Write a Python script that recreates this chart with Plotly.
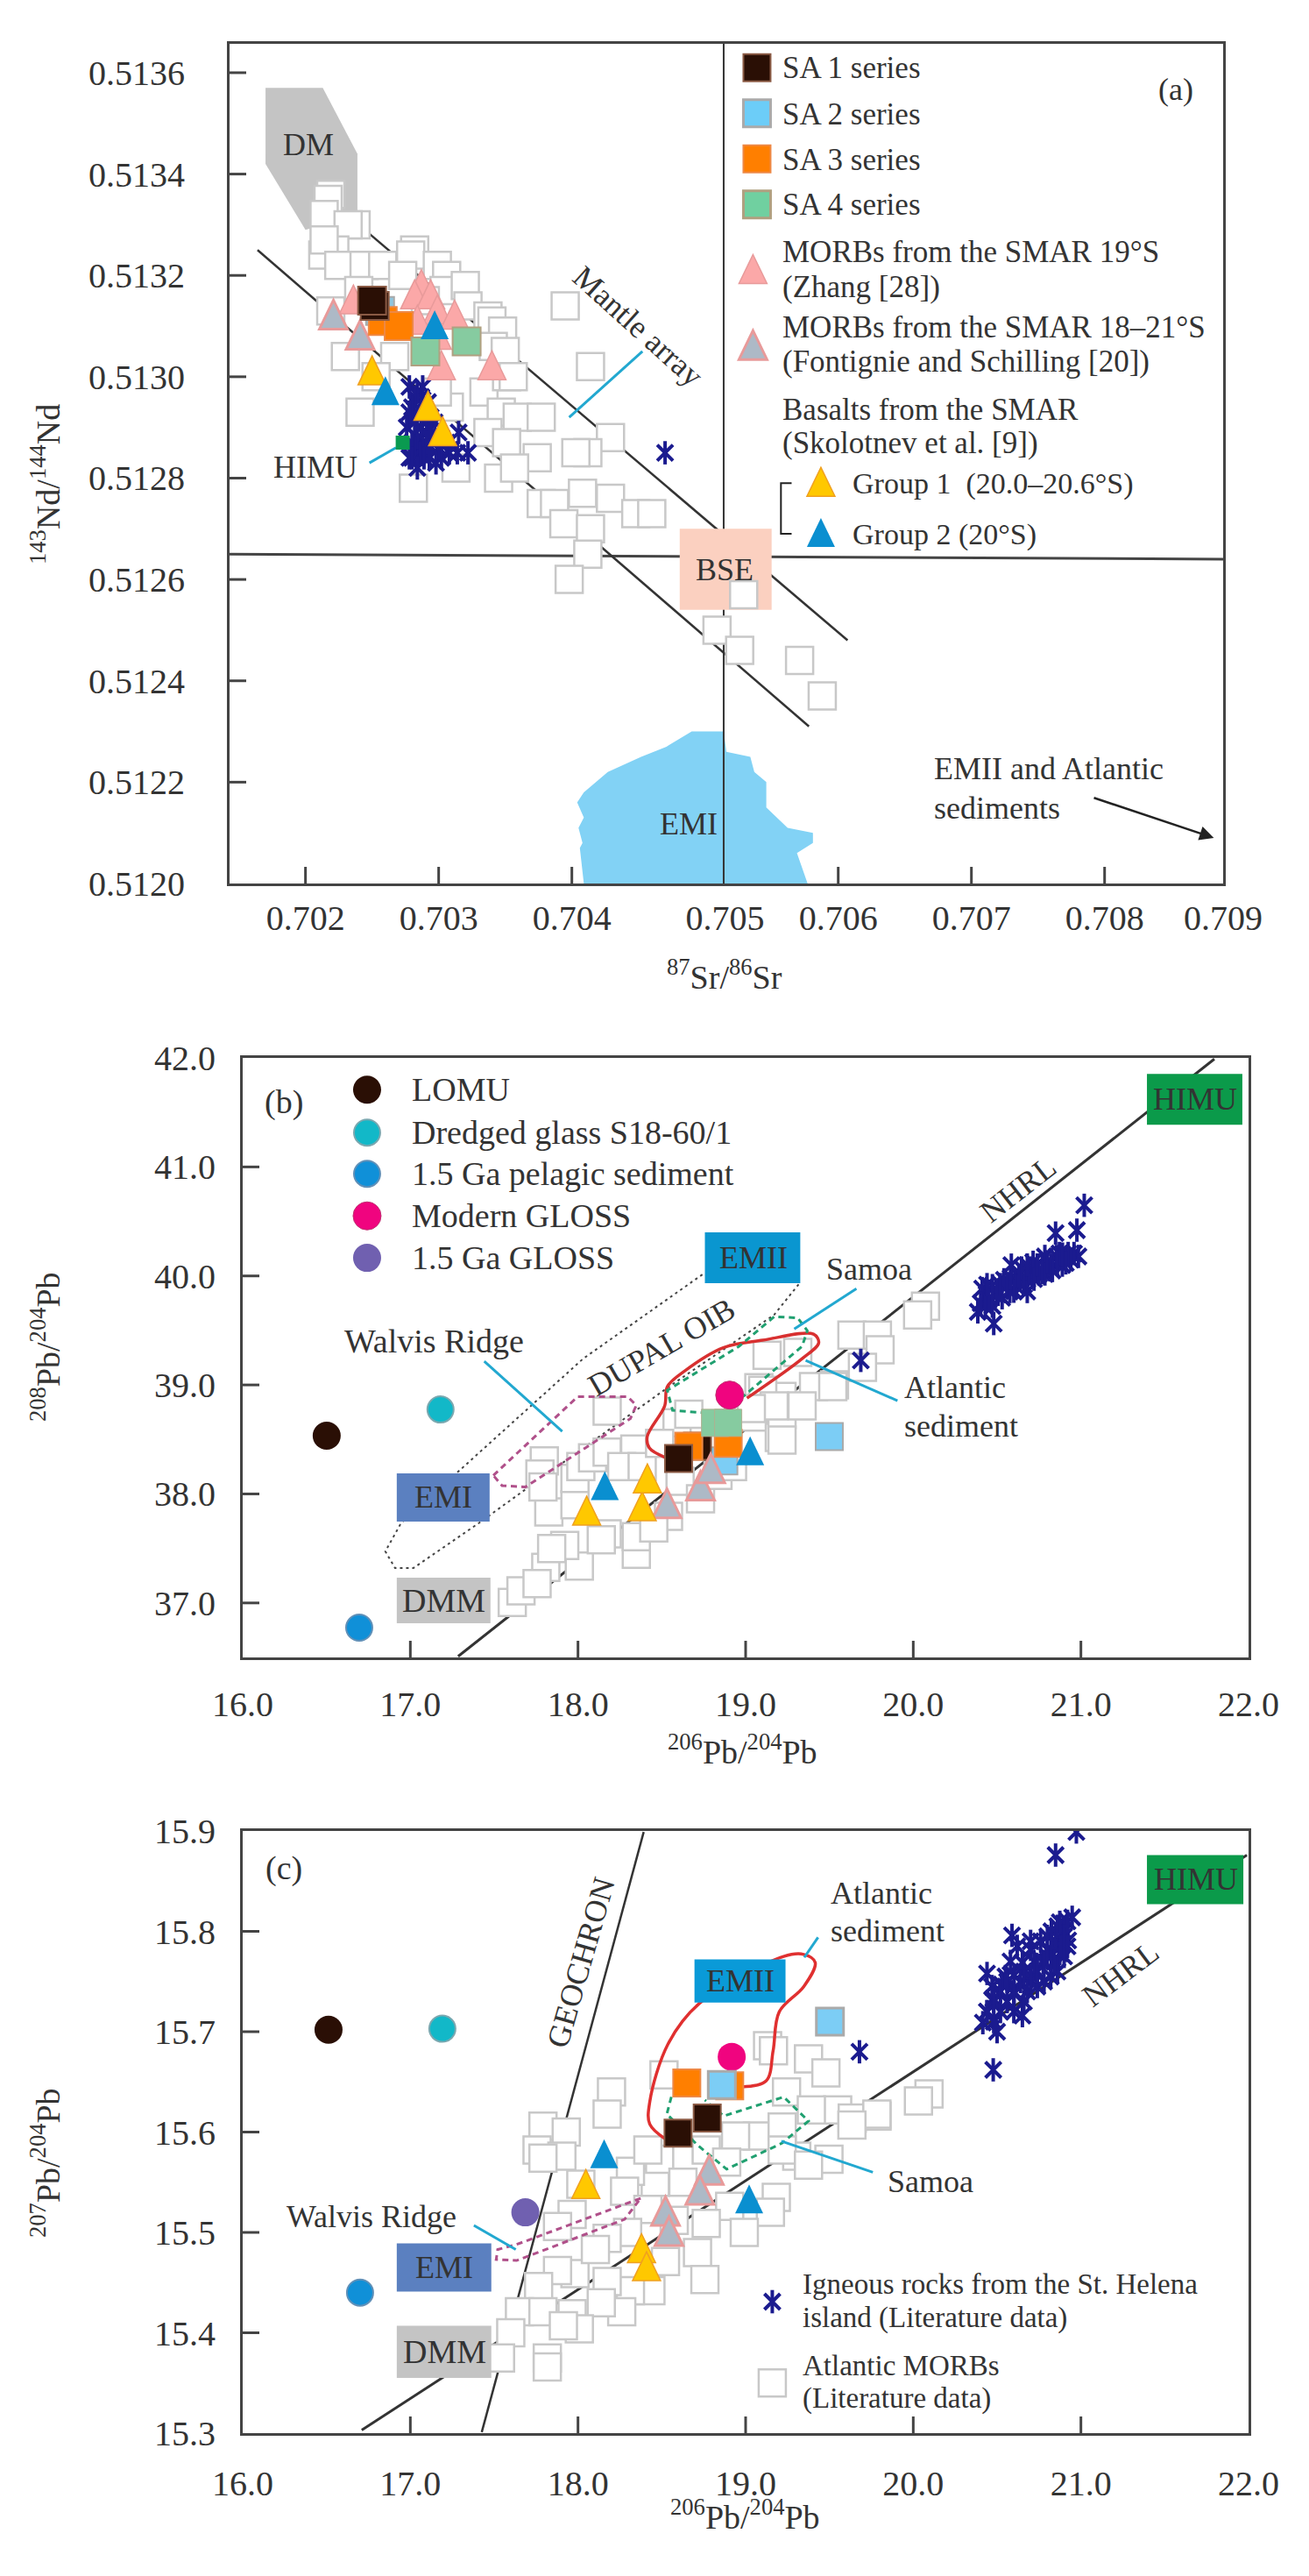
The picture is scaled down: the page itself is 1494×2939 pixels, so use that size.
import plotly.graph_objects as go

W, H = 1494, 2939
SERIF = "Liberation Serif"
INK = "#333333"
NAVY = "#1b1b8f"
LEADER = "#22a8d0"

# ---------- Panel (a): 87Sr/86Sr vs 143Nd/144Nd ----------
a_xticks = [0.702, 0.703, 0.704, 0.70515, 0.706, 0.707, 0.708, 0.70889]
a_xticktext = ["0.702", "0.703", "0.704", "0.705", "0.706", "0.707", "0.708", "0.709"]
a_xmarks = [0.702, 0.703, 0.704, 0.706, 0.707, 0.708]
a_yticks = [0.5120, 0.5122, 0.5124, 0.5126, 0.5128, 0.5130, 0.5132, 0.5134, 0.5136]
a_morb_x = [.70219,.70217,.70214,.70238,.70232,.70222,.70213,.70214,.70225,.70244,.70258,.70282,.70279,.70273,
            .70299,.70306,.70304,.70320,.70322,.70337,.70340,.70348,.70341,.70350,.70230,.70267,.70253,.70241,
            .70281,.70313,.70308,.70334,.70347,.70359,.70377,.70337,.70351,.70374,.70345,.70357,.70351,.70356,
            .70395,.70414,.70429,.70412,.70403,.70377,.70387,.70408,.70429,.70448,.70460,.70394,.70414,.70412,
            .70398,.70299,.70290,.70240,.70219,.70529,.70509,.70526,.70571,.70588]
a_morb_y = [.51336,.51335,.51332,.51330,.51330,.51325,.51324,.51327,.51322,.51322,.51322,.51325,.51324,.51320,
            .51322,.51320,.51317,.51318,.51314,.51312,.51311,.51309,.51306,.51305,.51304,.51304,.51300,.51293,
            .51278,.51282,.51294,.51297,.51293,.51292,.51292,.51289,.51287,.51284,.51280,.51282,.51300,.51300,
            .51314,.51302,.51288,.51285,.51285,.51275,.51275,.51277,.51276,.51273,.51273,.51271,.51270,.51265,
            .51260,.51297,.51315,.51317,.51313,.51257,.51250,.51246,.51244,.51237]
a_star_x = [.70284,.70282,.70287,.70280,.70284,.70282,.70287,.70284,.70291,.70282,.70288,.70295,.70302,.70286,
            .70293,.70302,.70308,.70284,.70315,.70314,.70322,.70297,.70470,
            .70278,.70288,.70292,.70278,.70290,.70294,.70276,.70293,.70280,.70291,.70300,.70278,.70289,.70298,
            .70280,.70306]
a_star_y = [.51297,.51296,.51296,.51294,.51292,.51291,.51290,.51288,.51289,.51286,.51286,.51287,.51288,.51285,
            .51284,.51284,.51285,.51282,.51289,.51285,.51285,.51291,.51285,
            .51298,.51298,.51295,.51293,.51293,.51292,.51290,.51290,.51287,.51287,.51286,.51284,.51284,.51283,
            .51284,.51287]
a_sa1_x, a_sa1_y = [.70252, .70250], [.51314, .51315]
a_sa2_x, a_sa2_y = [.70256], [.51313]
a_sa3_x, a_sa3_y = [.70258, .70270], [.51311, .51310]
a_sa4_x, a_sa4_y = [.70290, .70321], [.51305, .51307]
a_pink_x = [.70287,.70282,.70294,.70299,.70312,.70302,.70340,.70236,.70299,.70284]
a_pink_y = [.51318,.51316,.51316,.51313,.51312,.51302,.51302,.51315,.51308,.51311]
a_grey_x, a_grey_y = [.70221, .70241], [.51312, .51308]
a_yellow_x, a_yellow_y = [.70250, .70292, .70303], [.51301, .51294, .51289]
a_blue_x, a_blue_y = [.70297, .70260], [.51310, .51297]
a_himu_x, a_himu_y = [.70273], [.51287]
# legend keys of panel (a)
a_key_sq_x = [.70539, .70539, .70539, .70539]
a_key_sq_y = [.51361, .51352, .51343, .51334]
a_key_tri_x = [.70536, .70536, .70587, .70587]
a_key_tri_y = [.51321, .51306, .51279, .51269]
a_dm_x = [.70170,.70213,.70239,.70239,.70200,.70170]
a_dm_y = [.51357,.51357,.51344,.51332,.51329,.51342]
a_bse_x = [.70481,.70550,.70550,.70481]
a_bse_y = [.51270,.51270,.51254,.51254]
a_emi_x = [.70409,.70406,.70408,.70405,.70409,.70404,.70409,.70427,.70452,.70471,.70490,.70514,.70516,.70534,
           .70537,.70546,.70546,.70562,.70581,.70581,.70569,.70577]
a_emi_y = [.51200,.51207,.51208,.51211,.51213,.51216,.51218,.51222,.51225,.51227,.51230,.51230,.51226,.51225,
           .51222,.51220,.51215,.51211,.51210,.51208,.51206,.51200]
a_array_upper_x, a_array_upper_y = [.70240, .70607], [.51330, .51248]
a_array_lower_x, a_array_lower_y = [.70164, .70578], [.51325, .51231]
a_vert_x, a_vert_y = [.70514, .70514], [.51200, .513657]
a_horiz_x, a_horiz_y = [.70143, .70889], [.51265, .51264]
a_lead1_x, a_lead1_y = [.70398, .70453], [.51292, .51305]
a_lead2_x, a_lead2_y = [.70248, .70268], [.51283, .51286]
a_brack_x, a_brack_y = [.70565, .70557, .70557, .70565], [.51279, .51279, .51269, .51269]

# ---------- Panel (b): 206Pb/204Pb vs 208Pb/204Pb ----------
pb_xticks = [16, 17, 18, 19, 20, 21, 22]
b_yticks = [37, 38, 39, 40, 41, 42]
b_morb_x = [17.608,17.660,17.808,17.756,18.008,17.921,17.843,18.174,18.139,18.348,18.348,17.826,17.982,17.799,
            17.773,17.791,17.982,18.017,18.174,18.087,18.174,18.339,18.261,18.383,18.609,18.540,18.452,18.731,
            18.835,18.922,18.591,18.661,18.487,19.044,19.079,19.201,19.201,20.073,20.026,19.634,19.786,19.802,
            19.697,19.530,19.405,19.217,19.520,19.128,19.311,19.217,19.102,19.217,19.170,19.337,19.034]
b_morb_y = [37.004,37.111,37.326,37.178,37.339,37.527,37.500,37.634,37.580,37.446,37.607,37.835,37.902,38.304,
            38.183,38.063,38.143,38.250,38.759,38.331,38.384,38.411,38.250,38.250,38.116,37.795,37.688,37.955,
            38.170,38.250,38.652,38.732,38.465,38.706,38.974,38.840,38.518,39.723,39.643,39.458,39.458,39.322,
            39.161,39.000,38.984,38.895,38.984,39.273,39.298,38.727,38.951,38.494,38.807,38.807,38.783]
b_star_x = [21.020,20.976,20.849,20.985,20.959,20.924,20.889,20.855,20.820,20.785,20.750,20.715,20.680,20.646,
            20.585,20.611,20.541,20.576,20.506,20.472,20.437,20.411,20.402,20.472,20.385,20.480,20.680,20.785,
            20.872,19.687,
            20.45,20.50,20.53,20.56,20.60,20.63,20.66,20.69,20.72,20.74,20.77,20.80,20.83,20.86,20.89,20.91,20.94,
            20.52,20.58,20.43,20.44,20.68]
b_star_y = [40.648,40.420,40.393,40.179,40.206,40.206,40.099,40.179,40.072,40.179,40.018,40.125,39.965,40.072,
            40.099,39.911,39.965,39.857,39.831,39.911,39.831,39.884,39.750,39.723,39.670,39.563,39.857,40.018,
            40.206,39.225,
            39.78,39.87,39.80,39.93,39.86,40.00,39.92,40.04,39.97,40.10,40.03,40.13,40.05,40.13,40.20,40.12,40.15,
            39.92,39.98,39.72,39.92,40.10]
b_sa1_x, b_sa1_y = [18.713, 18.600], [38.438, 38.325]
b_sa2_x, b_sa2_y = [18.870, 19.499], [38.304, 38.526]
b_sa3_x, b_sa3_y = [18.661, 18.896], [38.438, 38.465]
b_sa4_x, b_sa4_y = [18.818, 18.896], [38.652, 38.652]
b_grey_x, b_grey_y = [18.531, 18.731, 18.792], [37.902, 38.063, 38.223]
b_yellow_x, b_yellow_y = [18.052, 18.383, 18.414], [37.835, 37.875, 38.130]
b_blue_x, b_blue_y = [18.160, 19.027], [38.063, 38.384]
b_lomu = (16.501, 38.534)
b_dredged = (17.180, 38.775)
b_pelagic = (16.695, 36.773)
b_gloss = (18.905, 38.907)
b_key_x = [16.742, 16.742, 16.742, 16.742, 16.742]
b_key_y = [41.709, 41.315, 40.937, 40.551, 40.166]
b_emii = ([18.757, 19.326], [39.933, 40.399])
b_emi = ([16.919, 17.473], [37.746, 38.188])
b_dmm = ([16.919, 17.478], [36.813, 37.232])
b_himu = ([21.394, 21.963], [41.387, 41.854])
b_nhrl_x, b_nhrl_y = [17.285, 21.796], [36.51, 41.99]
b_dupal_x = [18.742,18.031,17.285,16.945,16.851,16.909,17.018,17.410,17.681,18.543,19.170,19.321]
b_dupal_y = [40.013,39.241,38.204,37.734,37.473,37.320,37.320,37.734,38.035,38.984,39.643,39.932]
b_walvis_x = [17.495,17.999,18.296,18.348,18.313,17.686,17.547,17.495]
b_walvis_y = [38.170,38.893,38.893,38.813,38.692,38.063,38.076,38.170]
b_red_x = [18.517,18.426,18.413,18.517,18.533,18.637,18.867,19.102,19.405,19.436,19.337,19.008]
b_red_y = [38.337,38.421,38.526,38.807,38.984,39.129,39.342,39.410,39.466,39.386,39.241,38.879]
b_samoa_x = [18.893,18.564,18.533,18.961,19.172,19.311,19.368,19.337,18.987]
b_samoa_y = [38.727,38.767,38.951,39.354,39.627,39.614,39.498,39.354,38.896]
b_lead1_x, b_lead1_y = [17.441, 17.906], [39.217, 38.574]
b_lead2_x, b_lead2_y = [19.661, 19.290], [39.884, 39.514]
b_lead3_x, b_lead3_y = [19.358, 19.906], [39.225, 38.855]

# ---------- Panel (c): 206Pb/204Pb vs 207Pb/204Pb ----------
c_yticks = [15.3, 15.4, 15.5, 15.6, 15.7, 15.8, 15.9]
c_morb_x = [18.200,18.174,17.791,17.930,17.756,17.904,17.791,18.513,19.131,19.166,19.375,19.479,19.244,19.549,
            19.636,19.784,19.070,19.218,19.392,19.305,19.218,18.940,18.765,18.887,19.497,19.375,18.461,18.313,
            18.487,18.417,18.626,18.278,18.017,19.183,19.148,18.905,18.992,18.765,18.417,18.296,18.174,17.965,
            17.878,18.713,18.757,18.522,18.435,18.313,18.174,18.261,18.139,17.982,17.878,17.765,17.651,17.791,
            17.965,18.008,17.599,17.538,17.817,17.817,17.913,18.104,18.574,20.094,20.031,19.783,19.634]
c_morb_y = [15.640,15.618,15.606,15.600,15.582,15.576,15.574,15.657,15.686,15.681,15.673,15.659,15.640,15.622,
            15.614,15.616,15.596,15.605,15.622,15.576,15.582,15.596,15.582,15.570,15.573,15.567,15.550,15.561,
            15.573,15.582,15.550,15.541,15.548,15.535,15.520,15.526,15.500,15.509,15.523,15.500,15.494,15.518,
            15.506,15.480,15.453,15.471,15.442,15.442,15.451,15.421,15.430,15.459,15.462,15.446,15.421,15.421,
            15.419,15.404,15.400,15.375,15.375,15.366,15.407,15.483,15.512,15.638,15.631,15.618,15.607]
c_star_x = [20.973,20.849,20.948,20.874,20.824,20.924,20.800,20.874,20.589,20.700,20.775,20.651,20.601,20.700,
            20.440,20.527,20.601,20.477,20.440,20.651,20.415,20.477,20.824,20.899,19.679,
            20.90,20.85,20.80,20.86,20.82,20.78,20.74,20.72,20.68,20.64,20.60,20.56,20.52,20.48,20.55,20.47,
            20.66,20.76,20.90,20.84,20.92,20.62,20.58,20.50,
            20.70,20.78,20.74,20.70,20.66,20.60,20.56,20.52,20.48,20.44,20.88,20.92,20.86,20.80]
c_star_y = [15.899,15.876,15.814,15.809,15.800,15.791,15.782,15.778,15.796,15.782,15.769,15.769,15.756,15.756,
            15.758,15.747,15.738,15.733,15.720,15.716,15.709,15.662,15.778,15.800,15.680,
            15.775,15.79,15.795,15.76,15.755,15.75,15.745,15.77,15.74,15.75,15.72,15.73,15.72,15.71,15.755,15.745,
            15.73,15.79,15.795,15.77,15.81,15.785,15.77,15.70,
            15.79,15.77,15.76,15.75,15.76,15.74,15.75,15.74,15.73,15.72,15.785,15.785,15.805,15.775]
c_sa1_x, c_sa1_y = [18.597, 18.771], [15.599, 15.614]
c_sa2_x, c_sa2_y = [18.858, 19.503], [15.647, 15.710]
c_sa3_x, c_sa3_y = [18.649, 18.905], [15.649, 15.646]
c_grey_x, c_grey_y = [18.783, 18.727, 18.522, 18.543], [15.561, 15.541, 15.520, 15.500]
c_yellow_x, c_yellow_y = [18.047, 18.379, 18.409], [15.547, 15.483, 15.465]
c_blue_x, c_blue_y = [18.156, 19.021], [15.577, 15.532]
c_lomu = (16.512, 15.702)
c_dredged = (17.191, 15.703)
c_pelagic = (16.700, 15.440)
c_gloss = (18.917, 15.675)
c_old_gloss = (17.686, 15.520)
c_key_star = (19.159, 15.431)
c_key_sq = (19.159, 15.350)
c_emii = ([18.695, 19.238], [15.729, 15.772])
c_emi = ([16.919, 17.483], [15.441, 15.489])
c_dmm = ([16.919, 17.483], [15.355, 15.407])
c_himu = ([21.394, 21.969], [15.827, 15.876])
c_nhrl_x, c_nhrl_y = [16.71, 21.99], [15.303, 15.876]
c_geo_x, c_geo_y = [17.426, 18.392], [15.301, 15.899]
c_red_x = [18.522,18.428,18.428,18.538,18.723,19.227,19.347,19.415,19.347,19.201,19.164,19.123,18.977]
c_red_y = [15.593,15.608,15.630,15.688,15.728,15.775,15.777,15.769,15.745,15.720,15.681,15.651,15.645]
c_samoa_x = [18.557,18.530,18.713,18.887,19.218,19.375,19.227,18.870,18.757]
c_samoa_y = [15.635,15.618,15.587,15.563,15.589,15.611,15.635,15.616,15.632]
c_walvis_x = [18.374,17.634,17.521,17.512,17.634,18.278,18.374]
c_walvis_y = [15.534,15.488,15.483,15.473,15.472,15.513,15.534]
c_lead1_x, c_lead1_y = [17.379, 17.629], [15.507, 15.483]
c_lead2_x, c_lead2_y = [19.213, 19.759], [15.591, 15.560]
c_lead3_x, c_lead3_y = [19.350, 19.432], [15.774, 15.794]

# ---------- helpers ----------
fig = go.Figure()
SHAPES = []
PANELS = {
    "a": ("x", "y", (262, 1396), (50, 1008), (0.70143, 0.70889), (0.5120, 0.513657)),
    "b": ("x2", "y2", (277, 1425), (1207, 1891), (16, 22), (36.5, 42)),
    "c": ("x3", "y3", (277, 1425), (2089, 2776), (16, 22), (15.3, 15.9)),
}
TICK_LEN_PX = 19

def line(p, xs, ys, color=INK, width=2.5, dash="solid", shape="linear", smoothing=1.0):
    xa, ya = PANELS[p][:2]
    fig.add_trace(go.Scatter(x=xs, y=ys, xaxis=xa, yaxis=ya, mode="lines", hoverinfo="skip",
                             line=dict(color=color, width=width, dash=dash, shape=shape,
                                       smoothing=smoothing if shape == "spline" else None)))

def poly(p, xs, ys, color):
    xa, ya = PANELS[p][:2]
    fig.add_trace(go.Scatter(x=xs, y=ys, xaxis=xa, yaxis=ya, mode="lines", fill="toself", fillcolor=color,
                             line=dict(color=color, width=0), hoverinfo="skip"))

def box(p, xr, yr, color):
    poly(p, [xr[0], xr[1], xr[1], xr[0], xr[0]], [yr[0], yr[0], yr[1], yr[1], yr[0]], color)

def pts(p, xs, ys, symbol, size, color, edge=None, ew=0):
    xa, ya = PANELS[p][:2]
    fig.add_trace(go.Scatter(x=xs, y=ys, xaxis=xa, yaxis=ya, mode="markers", hoverinfo="skip",
                             marker=dict(symbol=symbol, size=size, color=color,
                                         line=dict(color=edge or color, width=ew))))

TRI_PATH = "M-16,-15 L16,-15 L0,18 Z"
SQ_PATH = "M-16,-16 L16,-16 L16,16 L-16,16 Z"

def anchored(p, xs, ys, path, color, edge, ew):
    xa, ya = PANELS[p][:2]
    for xv, yv in zip(xs, ys):
        SHAPES.append(dict(type="path", xref=xa, yref=ya, xsizemode="pixel", ysizemode="pixel",
                           xanchor=xv, yanchor=yv, path=path, fillcolor=color, layer="above",
                           line=dict(color=edge, width=ew)))

def tri(p, xs, ys, color, edge=None, ew=0):
    anchored(p, xs, ys, TRI_PATH, color, edge or color, ew)

def sq(p, xs, ys, color, edge, ew=2):
    anchored(p, xs, ys, SQ_PATH, color, edge, ew)

def tick_marks(p, xvals, yvals):
    _, _, (x0, x1), (y0, y1), xr, yr = PANELS[p]
    dy = TICK_LEN_PX * (yr[1] - yr[0]) / (y1 - y0)
    dx = TICK_LEN_PX * (xr[1] - xr[0]) / (x1 - x0)
    xs, ys = [], []
    for v in xvals:
        xs += [v, v, None]
        ys += [yr[0], yr[0] + dy, None]
    for v in yvals:
        xs += [xr[0], xr[0] + dx, None]
        ys += [v, v, None]
    line(p, xs, ys, color="#444444", width=3)

def stars(p, xs, ys):
    xa, ya = PANELS[p][:2]
    for sym, size in (("x-thin-open", 18), ("line-ns-open", 19)):
        fig.add_trace(go.Scatter(x=xs, y=ys, xaxis=xa, yaxis=ya, mode="markers", hoverinfo="skip",
                                 marker=dict(symbol=sym, size=size, color=NAVY, line=dict(color=NAVY, width=4))))

def morb(p, xs, ys):
    pts(p, xs, ys, "square", 31, "#ffffff", "#c8c8c8", 2.5)

BLACK, ORANGE, GREEN, SKY = "#2a0f05", "#ff7f00", "#86cba0", "#7ccdf5"
PINK, YELLOW, BLUE = "#fba8a8", "#ffc800", "#0a8fd0"
PINKEDGE, GREYFILL = "#e89a9a", "#adb9c6"

# ---------- panel (a) marks ----------
poly("a", a_dm_x, a_dm_y, "#c4c4c4")
poly("a", a_emi_x, a_emi_y, "#82d2f5")
line("a", a_vert_x, a_vert_y, width=2)
line("a", a_horiz_x, a_horiz_y, color="#444444", width=3)
line("a", a_array_upper_x, a_array_upper_y)
line("a", a_array_lower_x, a_array_lower_y)
poly("a", a_bse_x, a_bse_y, "#fbd0c0")
morb("a", a_morb_x, a_morb_y)
line("a", a_lead1_x, a_lead1_y, color=LEADER, width=3)
line("a", a_lead2_x, a_lead2_y, color=LEADER, width=3)
line("a", a_brack_x, a_brack_y, color="#222222", width=2)
stars("a", a_star_x, a_star_y)
pts("a", a_himu_x, a_himu_y, "square", 16, "#0a9a50")
tri("a", a_pink_x, a_pink_y, PINK, PINKEDGE, 1.5)
tri("a", a_grey_x, a_grey_y, GREYFILL, PINKEDGE, 3)
sq("a", a_sa2_x, a_sa2_y, "#8fc5de", "#aaaaaa")
sq("a", a_sa3_x, a_sa3_y, ORANGE, "#ee8844")
sq("a", a_sa1_x, a_sa1_y, BLACK, "#8a5a44")
sq("a", a_sa4_x, a_sa4_y, GREEN, "#b0a080")
tri("a", a_yellow_x, a_yellow_y, YELLOW, "#f0a020", 1.5)
tri("a", a_blue_x, a_blue_y, BLUE)
pts("a", a_key_sq_x[:1], a_key_sq_y[:1], "square", 31, BLACK, "#8a5a44", 2)
pts("a", a_key_sq_x[1:2], a_key_sq_y[1:2], "square", 31, "#6ccdf8", "#aaaaaa", 3)
pts("a", a_key_sq_x[2:3], a_key_sq_y[2:3], "square", 31, ORANGE, "#ee8844", 2)
pts("a", a_key_sq_x[3:4], a_key_sq_y[3:4], "square", 31, "#70d0a0", "#b0a080", 3)
tri("a", a_key_tri_x[:1], a_key_tri_y[:1], PINK, PINKEDGE, 1.5)
tri("a", a_key_tri_x[1:2], a_key_tri_y[1:2], GREYFILL, PINKEDGE, 3)
tri("a", a_key_tri_x[2:3], a_key_tri_y[2:3], YELLOW, "#f0a020", 1.5)
tri("a", a_key_tri_x[3:4], a_key_tri_y[3:4], BLUE)
tick_marks("a", a_xmarks, a_yticks[1:])

# ---------- panel (b) marks ----------
line("b", b_nhrl_x, b_nhrl_y, width=3)
line("b", b_dupal_x, b_dupal_y, color="#444444", width=2, dash="3px,4px")
morb("b", b_morb_x, b_morb_y)
line("b", b_walvis_x, b_walvis_y, color="#b0508a", width=3, dash="7px,5px")
line("b", b_red_x, b_red_y, color="#d83030", width=3.5, shape="spline")
line("b", b_samoa_x, b_samoa_y, color="#20a070", width=3, dash="7px,5px")
line("b", b_lead1_x, b_lead1_y, color=LEADER, width=3)
line("b", b_lead2_x, b_lead2_y, color=LEADER, width=3)
line("b", b_lead3_x, b_lead3_y, color=LEADER, width=3)
stars("b", b_star_x, b_star_y)
pts("b", b_sa2_x, b_sa2_y, "square", 31, SKY, "#aaaaaa", 2)
pts("b", b_sa1_x[:1], b_sa1_y[:1], "square", 31, BLACK, "#8a5a44", 2)
pts("b", b_sa3_x, b_sa3_y, "square", 31, ORANGE, "#ee8844", 2)
pts("b", b_sa4_x, b_sa4_y, "square", 31, GREEN, "#b0b090", 1)
pts("b", b_sa1_x[1:], b_sa1_y[1:], "square", 31, BLACK, "#8a5a44", 2)
tri("b", b_grey_x, b_grey_y, GREYFILL, PINKEDGE, 3)
tri("b", b_yellow_x, b_yellow_y, YELLOW, "#f0a020", 1.5)
tri("b", b_blue_x, b_blue_y, BLUE)
pts("b", [b_lomu[0], b_key_x[0]], [b_lomu[1], b_key_y[0]], "circle", 32, BLACK)
pts("b", [b_dredged[0], b_key_x[1]], [b_dredged[1], b_key_y[1]], "circle", 30, "#12b8c8", "#7aa8b0", 2)
pts("b", [b_pelagic[0], b_key_x[2]], [b_pelagic[1], b_key_y[2]], "circle", 30, "#1090d8", "#6090b8", 2)
pts("b", [b_gloss[0], b_key_x[3]], [b_gloss[1], b_key_y[3]], "circle", 32, "#f0047f", "#c03070", 1)
pts("b", b_key_x[4:], b_key_y[4:], "circle", 32, "#7060b0")
box("b", *b_emii, "#0a96d0")
box("b", *b_emi, "#5b80c0")
box("b", *b_dmm, "#c4c4c4")
box("b", *b_himu, "#0b9a4a")
tick_marks("b", pb_xticks[1:-1], b_yticks[:-1])

# ---------- panel (c) marks ----------
line("c", c_nhrl_x, c_nhrl_y, width=3)
line("c", c_geo_x, c_geo_y, width=2.5)
morb("c", c_morb_x, c_morb_y)
morb("c", [c_key_sq[0]], [c_key_sq[1]])
line("c", c_walvis_x, c_walvis_y, color="#b0508a", width=3, dash="7px,5px")
line("c", c_red_x, c_red_y, color="#e03030", width=3.5, shape="spline")
line("c", c_samoa_x, c_samoa_y, color="#20a070", width=3, dash="7px,5px")
line("c", c_lead1_x, c_lead1_y, color=LEADER, width=3)
line("c", c_lead2_x, c_lead2_y, color=LEADER, width=3)
line("c", c_lead3_x, c_lead3_y, color=LEADER, width=3)
stars("c", c_star_x, c_star_y)
stars("c", [c_key_star[0]], [c_key_star[1]])
pts("c", [c_gloss[0]], [c_gloss[1]], "circle", 32, "#f0047f")
pts("c", c_sa3_x, c_sa3_y, "square", 31, ORANGE, "#ee8844", 2)
pts("c", c_sa2_x, c_sa2_y, "square", 31, SKY, "#aaaaaa", 3)
pts("c", c_sa1_x, c_sa1_y, "square", 31, BLACK, "#8a5a44", 2)
tri("c", c_grey_x, c_grey_y, GREYFILL, PINKEDGE, 3)
tri("c", c_yellow_x, c_yellow_y, YELLOW, "#f0a020", 1.5)
tri("c", c_blue_x, c_blue_y, BLUE)
pts("c", [c_lomu[0]], [c_lomu[1]], "circle", 32, BLACK)
pts("c", [c_dredged[0]], [c_dredged[1]], "circle", 30, "#12b8c8", "#7aa8b0", 2)
pts("c", [c_pelagic[0]], [c_pelagic[1]], "circle", 30, "#1090d8", "#6090b8", 2)
pts("c", [c_old_gloss[0]], [c_old_gloss[1]], "circle", 32, "#7060b0")
box("c", *c_emii, "#0a9ad8")
box("c", *c_emi, "#5b80c0")
box("c", *c_dmm, "#c4c4c4")
box("c", *c_himu, "#0b9a4a")
tick_marks("c", pb_xticks[1:-1], c_yticks[1:-1])

# ---------- text placed on the page: (text, left/centre px, middle px, font px, angle, anchor) ----------
LABELS = [
    ("<sup>143</sup>Nd/<sup>144</sup>Nd", 52, 553, 38, -90, "center"),
    ("<sup>87</sup>Sr/<sup>86</sup>Sr", 827, 1112, 38, 0, "center"),
    ("(a)", 1342, 102, 36, 0, "center"),
    ("DM", 352, 165, 36, 0, "center"),
    ("Mantle array", 728, 372, 36, 42, "center"),
    ("HIMU", 360, 533, 36, 0, "center"),
    ("BSE", 827, 650, 36, 0, "center"),
    ("EMI", 786, 940, 36, 0, "center"),
    ("EMII and Atlantic", 1064, 877, 36, 0, "left"),
    ("sediments", 1064, 922, 36, 0, "left"),
    ("SA 1 series", 891, 77, 35, 0, "left"),
    ("SA 2 series", 891, 130, 35, 0, "left"),
    ("SA 3 series", 891, 182, 35, 0, "left"),
    ("SA 4 series", 891, 233, 35, 0, "left"),
    ("MORBs from the SMAR 19\u00b0S", 891, 288, 35, 0, "left"),
    ("(Zhang [28])", 891, 327, 35, 0, "left"),
    ("MORBs from the SMAR 18\u201321\u00b0S", 891, 373, 35, 0, "left"),
    ("(Fontignie and Schilling [20])", 891, 412, 35, 0, "left"),
    ("Basalts from the SMAR", 891, 467, 35, 0, "left"),
    ("(Skolotnev et al. [9])", 891, 506, 35, 0, "left"),
    ("Group 1  (20.0\u201320.6\u00b0S)", 971, 552, 34, 0, "left"),
    ("Group 2 (20\u00b0S)", 971, 610, 34, 0, "left"),
    ("<sup>208</sup>Pb/<sup>204</sup>Pb", 52, 1537, 38, -90, "center"),
    ("<sup>206</sup>Pb/<sup>204</sup>Pb", 847, 1996, 38, 0, "center"),
    ("(b)", 324, 1257, 38, 0, "center"),
    ("LOMU", 468, 1243, 38, 0, "left"),
    ("Dredged glass S18-60/1", 468, 1292, 38, 0, "left"),
    ("1.5 Ga pelagic sediment", 468, 1339, 38, 0, "left"),
    ("Modern GLOSS", 468, 1387, 38, 0, "left"),
    ("1.5 Ga GLOSS", 468, 1435, 38, 0, "left"),
    ("Walvis Ridge", 495, 1530, 38, 0, "center"),
    ("DUPAL OIB", 755, 1537, 36, -30, "center"),
    ("EMII", 860, 1435, 36, 0, "center"),
    ("EMI", 506, 1708, 36, 0, "center"),
    ("DMM", 506, 1826, 38, 0, "center"),
    ("HIMU", 1364, 1254, 36, 0, "center"),
    ("Samoa", 992, 1448, 36, 0, "center"),
    ("Atlantic", 1030, 1583, 36, 0, "left"),
    ("sediment", 1030, 1627, 36, 0, "left"),
    ("NHRL", 1162, 1357, 36, -38, "center"),
    ("<sup>207</sup>Pb/<sup>204</sup>Pb", 52, 2468, 38, -90, "center"),
    ("<sup>206</sup>Pb/<sup>204</sup>Pb", 850, 2869, 38, 0, "center"),
    ("(c)", 324, 2131, 38, 0, "center"),
    ("GEOCHRON", 663, 2239, 36, -74, "center"),
    ("Atlantic", 946, 2160, 36, 0, "left"),
    ("sediment", 946, 2203, 36, 0, "left"),
    ("EMII", 845, 2260, 36, 0, "center"),
    ("EMI", 507, 2587, 36, 0, "center"),
    ("DMM", 507, 2683, 38, 0, "center"),
    ("HIMU", 1365, 2144, 36, 0, "center"),
    ("Walvis Ridge", 424, 2529, 36, 0, "center"),
    ("Samoa", 1011, 2489, 36, 0, "left"),
    ("NHRL", 1279, 2252, 36, -37, "center"),
    ("Igneous rocks from the St. Helena", 914, 2606, 33, 0, "left"),
    ("island (Literature data)", 914, 2644, 33, 0, "left"),
    ("Atlantic MORBs", 914, 2699, 33, 0, "left"),
    ("(Literature data)", 914, 2736, 33, 0, "left"),
]
annotations = [dict(text=t, xref="paper", yref="paper", x=px / W, y=1 - py / H, xanchor=anc, yanchor="middle",
                    showarrow=False, textangle=ang, font=dict(family=SERIF, size=sz, color=INK))
               for t, px, py, sz, ang, anc in LABELS]
annotations.append(dict(x=0.70882, y=0.51209, ax=0.70791, ay=0.51217, xref="x", yref="y", axref="x", ayref="y",
                        text="", showarrow=True, arrowhead=2, arrowsize=1.3, arrowwidth=2.5, arrowcolor="#222222"))

layout = dict(width=W, height=H, margin=dict(l=0, r=0, t=0, b=0, autoexpand=False),
              paper_bgcolor="white", plot_bgcolor="white", shapes=SHAPES,
              showlegend=False, annotations=annotations)

def axis_style(**kw):
    d = dict(showgrid=False, zeroline=False, showline=True, mirror=True, linecolor="#444444", linewidth=3,
             ticks="", tickfont=dict(family=SERIF, size=40, color=INK))
    d.update(kw)
    return d

PAD = {"a": "\u00a0" * 4, "b": "\u00a0" * 2, "c": "\u00a0" * 2}
XOFF = {"a": 2, "b": 16, "c": 20}
for key, suf in (("a", ""), ("b", "2"), ("c", "3")):
    _, _, (x0, x1), (y0, y1), xr, yr = PANELS[key]
    xd = [x0 / W, x1 / W]
    yd = [1 - y1 / H, 1 - y0 / H]
    if key == "a":
        xt, xs, yt, ys = a_xticks, a_xticktext, a_yticks, [f"{v:.4f}" for v in a_yticks]
    elif key == "b":
        xt, xs, yt, ys = pb_xticks, [f"{v:.1f}" for v in pb_xticks], b_yticks, [f"{v:.1f}" for v in b_yticks]
    else:
        xt, xs, yt, ys = pb_xticks, [f"{v:.1f}" for v in pb_xticks], c_yticks, [f"{v:.1f}" for v in c_yticks]
    ys = [s + PAD[key] for s in ys]
    layout["xaxis" + suf] = axis_style(domain=xd, range=list(xr), tickvals=xt, ticktext=xs,
                                       anchor="y" + suf, ticklabelstandoff=XOFF[key])
    layout["yaxis" + suf] = axis_style(domain=yd, range=list(yr), tickvals=yt, ticktext=ys,
                                       anchor="x" + suf)

fig.update_layout(**layout)
fig.write_html("out.html", post_script="document.body.style.margin='0';", config=dict(displayModeBar=False))
